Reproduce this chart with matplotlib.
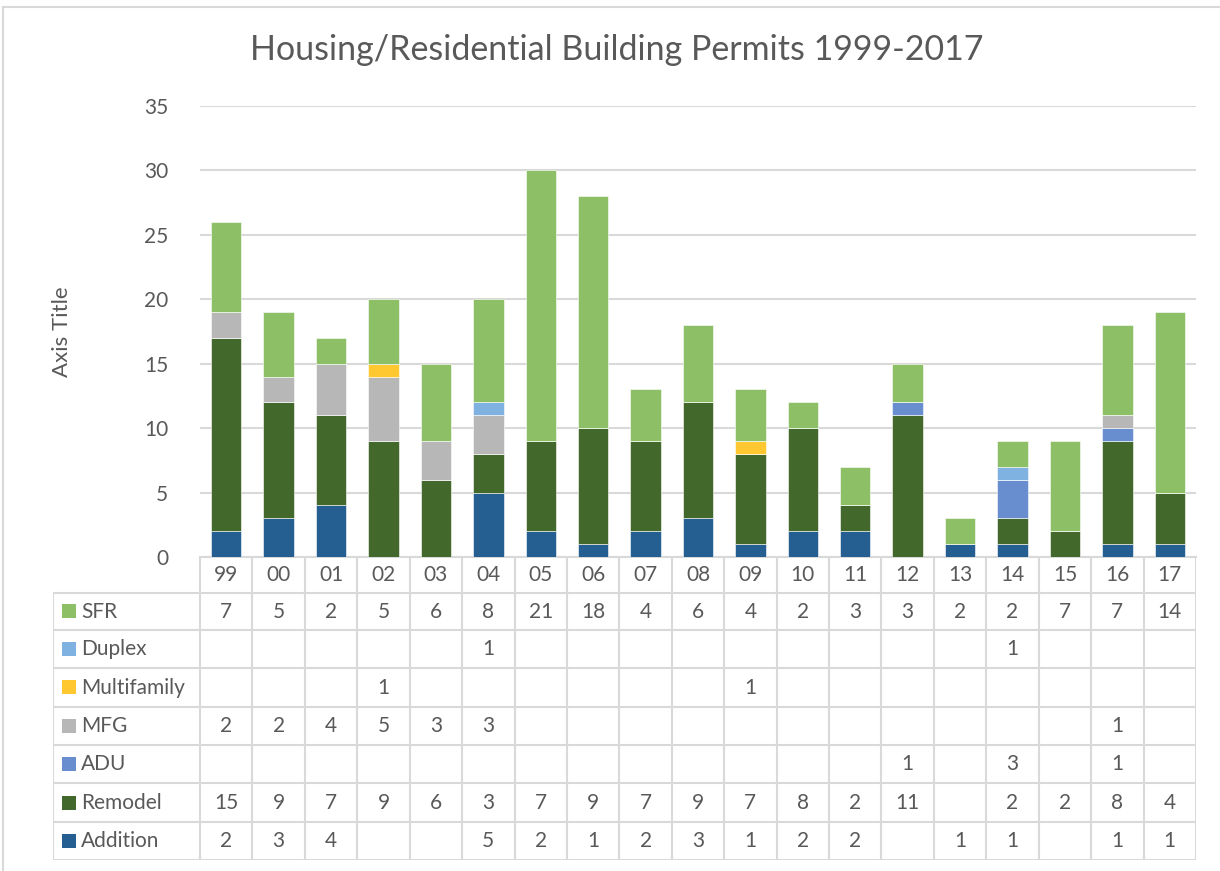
import matplotlib
matplotlib.use("Agg")
import matplotlib.pyplot as plt
from matplotlib.patches import Rectangle
from matplotlib.lines import Line2D

# data
years = ['99', '00', '01', '02', '03', '04', '05', '06', '07', '08',
         '09', '10', '11', '12', '13', '14', '15', '16', '17']
addition    = [2, 3, 4, 0, 0, 5, 2, 1, 2, 3, 1, 2, 2, 0, 1, 1, 0, 1, 1]
remodel     = [15, 9, 7, 9, 6, 3, 7, 9, 7, 9, 7, 8, 2, 11, 0, 2, 2, 8, 4]
adu         = [0, 0, 0, 0, 0, 0, 0, 0, 0, 0, 0, 0, 0, 1, 0, 3, 0, 1, 0]
mfg         = [2, 2, 4, 5, 3, 3, 0, 0, 0, 0, 0, 0, 0, 0, 0, 0, 0, 1, 0]
multifamily = [0, 0, 0, 1, 0, 0, 0, 0, 0, 0, 1, 0, 0, 0, 0, 0, 0, 0, 0]
duplex      = [0, 0, 0, 0, 0, 1, 0, 0, 0, 0, 0, 0, 0, 0, 0, 1, 0, 0, 0]
sfr         = [7, 5, 2, 5, 6, 8, 21, 18, 4, 6, 4, 2, 3, 3, 2, 2, 7, 7, 14]

# bottom-to-top stacking order
series = [
    ('Addition', addition, '#255e91'),
    ('Remodel', remodel, '#43682b'),
    ('ADU', adu, '#698ed0'),
    ('MFG', mfg, '#b7b7b7'),
    ('Multifamily', multifamily, '#ffc830'),
    ('Duplex', duplex, '#7fb2e0'),
    ('SFR', sfr, '#8dc066'),
]

plt.rcParams['font.family'] = ['Lato', 'DejaVu Sans']
text_col = '#595959'
grid_col = '#d9d9d9'
fs = 15

W, H = 1220, 871
fig = plt.figure(figsize=(W / 100, H / 100), dpi=100)

def fx(px):
    return px / W

def fy(py):
    return 1 - py / H

# chart border
fig.add_artist(Line2D([fx(3), fx(3)], [fy(7), fy(871)], color=grid_col, lw=1.5))
fig.add_artist(Line2D([fx(3), 1], [fy(7), fy(7)], color=grid_col, lw=1.5))

# bar plot area
left, right, top, bottom = 200, 1196, 106, 557
ax = fig.add_axes([fx(left), fy(bottom), fx(right - left), (bottom - top) / H])
x = list(range(len(years)))
base = [0] * len(years)
for name, vals, col in series:
    ax.bar(x, vals, 0.58, bottom=base, color=col, edgecolor='white', linewidth=0.4, zorder=3)
    base = [b + v for b, v in zip(base, vals)]
ax.set_xlim(-0.5, len(years) - 0.5)
ax.set_ylim(0, 35)
ax.set_yticks(range(0, 36, 5))
ax.yaxis.grid(True, color=grid_col, lw=1.5, zorder=0)
ax.set_xticks([])
ax.tick_params(axis='y', length=0, labelsize=fs, labelcolor=text_col, pad=23)
for s in ['top', 'right', 'left']:
    ax.spines[s].set_visible(False)
ax.spines['bottom'].set_color(grid_col)
ax.spines['bottom'].set_linewidth(1.5)
ax.set_ylabel('Axis Title', fontsize=fs + 1, color=text_col, labelpad=52)

fig.text(fx(617), fy(50), 'Housing/Residential Building Permits 1999-2017',
         ha='center', va='center', fontsize=24.5, color=text_col)

# data table
tleft = 53
colw = (right - left) / len(years)
row_edges = [557, 593, 630, 668, 707, 745, 783, 822, 860]
tab = fig.add_axes([fx(tleft), fy(row_edges[-1]), fx(right - tleft), (row_edges[-1] - row_edges[0]) / H])
tab.set_xlim(-0.5 - (left - tleft) / colw, len(years) - 0.5)
tab.set_ylim(row_edges[-1], row_edges[0])
tab.axis('off')
x0 = -0.5 - (left - tleft) / colw
xe = len(years) - 0.5
lkw = dict(color=grid_col, lw=1.5, solid_capstyle='butt')
for ry in row_edges[1:]:
    tab.plot([x0, xe], [ry, ry], **lkw)
for i in range(len(years) + 1):
    tab.plot([i - 0.5, i - 0.5], [row_edges[0], row_edges[-1]], **lkw)
tab.plot([x0, x0], [row_edges[1], row_edges[-1]], **lkw)

for i, yr in enumerate(years):
    tab.text(i, (row_edges[0] + row_edges[1]) / 2, yr, ha='center', va='center',
             fontsize=fs, color=text_col)

for r, (name, vals, col) in enumerate(reversed(series)):
    yc = (row_edges[r + 1] + row_edges[r + 2]) / 2
    tab.add_patch(Rectangle((x0 + 9 / colw, yc - 7), 14 / colw, 14, color=col, lw=0))
    tab.text(x0 + 28 / colw, yc, name, ha='left', va='center', fontsize=fs, color=text_col)
    for i, v in enumerate(vals):
        if v:
            tab.text(i, yc, str(v), ha='center', va='center', fontsize=fs, color=text_col)

fig.savefig('out.png', dpi=100)
